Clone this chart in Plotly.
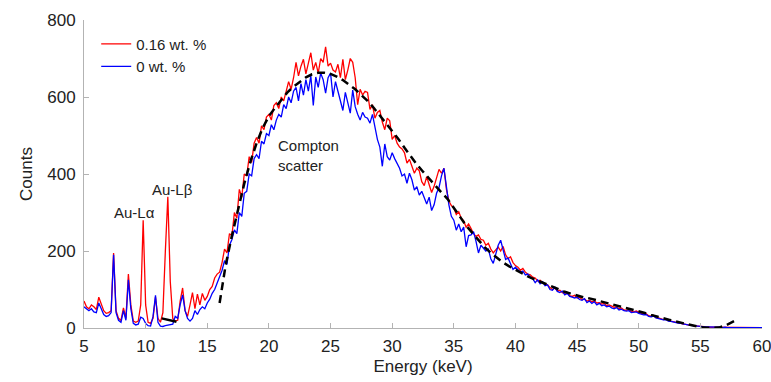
import numpy as np
import plotly.graph_objects as go

# Energy grid (keV), 0.2 keV channels from 5 to 60
energy = np.round(np.arange(5.0, 60.0001, 0.2), 1)

# 0.16 wt. % spectrum (counts), one row per keV
red_counts = [
    70, 55, 50, 60, 55,
    48, 80, 62, 45, 38,
    40, 45, 195, 45, 25,
    20, 52, 25, 140, 60,
    18, 15, 18, 60, 280,
    60, 15, 12, 25, 80,
    25, 15, 40, 200, 341,
    120, 25, 18, 20, 70,
    104, 45, 30, 60, 92,
    50, 88, 60, 90, 72,
    82, 100, 108, 130, 140,
    145, 170, 205, 195, 245,
    240, 300, 285, 360, 340,
    400, 395, 445, 430, 480,
    495, 480, 525, 515, 548,
    555, 540, 578, 585, 570,
    600, 590, 612, 640, 620,
    650, 690, 655, 680, 698,
    660, 690, 715, 670, 690,
    662, 700, 690, 730, 680,
    688, 670, 665, 685, 650,
    698, 645, 670, 700, 690,
    650, 580, 620, 605, 615,
    612, 568, 580, 545, 560,
    565, 535, 515, 545, 538,
    490, 500, 480, 470, 465,
    455, 428, 438, 420, 402,
    415, 408, 380, 370, 393,
    375, 352, 368, 390, 412,
    402, 415, 360, 330, 318,
    312, 295, 302, 285, 278,
    262, 270, 258, 245, 238,
    242, 230, 228, 215, 220,
    205, 195, 203, 210, 200,
    212, 190, 180, 185, 170,
    162, 158, 150, 155, 145,
    140, 138, 132, 130, 122,
    124, 118, 115, 112, 105,
    100, 104, 96, 98, 92,
    90, 92, 84, 82, 85,
    78, 80, 74, 75, 70,
    72, 68, 70, 65, 66,
    62, 64, 58, 60, 56,
    54, 55, 50, 52, 47,
    46, 48, 43, 42, 44,
    40, 38, 36, 37, 32,
    30, 33, 27, 26, 24,
    22, 23, 19, 18, 16,
    15, 14, 12, 11, 9,
    8, 8, 6, 5, 5,
    4, 4, 3, 3, 2,
    2, 2, 2, 1, 2,
    1, 1, 2, 1, 1,
    1, 1, 1, 1, 1,
    1, 1, 1, 1, 1,
    1,
]

# 0 wt. % spectrum (counts)
blue_counts = [
    55, 50, 45, 50, 42,
    40, 65, 50, 35, 30,
    32, 40, 190, 40, 20,
    15, 45, 20, 125, 50,
    12, 8, 10, 28, 25,
    12, 6, 5, 30, 85,
    15, 5, 4, 6, 7,
    8, 10, 30, 25, 60,
    86, 45, 25, 18, 25,
    45, 35, 48, 55, 50,
    65, 75, 90, 100, 115,
    130, 150, 175, 165, 215,
    230, 255, 245, 300, 290,
    350, 355, 400, 395, 440,
    450, 440, 485, 478, 505,
    500, 528, 515, 540, 555,
    548, 580, 570, 600, 585,
    615, 625, 590, 635, 605,
    645, 615, 655, 578, 652,
    625, 662, 645, 610, 650,
    662, 600, 640, 615, 590,
    565, 612, 585, 558, 618,
    575, 555, 540, 560, 548,
    545, 532, 555, 520, 490,
    470, 420, 478, 445, 436,
    455, 440, 428, 415, 395,
    400, 376, 402, 385, 358,
    367, 345, 355, 340, 322,
    340, 305, 320, 350, 365,
    395, 415, 370, 320, 290,
    280, 254, 270, 250, 262,
    211, 240, 242, 250, 225,
    195, 215, 208, 200, 205,
    180, 168, 195, 215, 228,
    205, 178, 182, 165, 152,
    158, 150, 145, 148, 138,
    140, 132, 128, 118, 125,
    115, 120, 110, 112, 100,
    98, 106, 95, 92, 96,
    86, 90, 82, 80, 78,
    80, 74, 72, 76, 66,
    70, 64, 68, 60, 64,
    58, 60, 55, 57, 52,
    50, 53, 47, 49, 45,
    44, 45, 40, 41, 42,
    38, 36, 34, 35, 30,
    29, 31, 26, 25, 22,
    21, 22, 18, 17, 15,
    14, 13, 12, 10, 9,
    8, 7, 6, 5, 5,
    4, 4, 3, 3, 3,
    2, 2, 2, 2, 1,
    2, 1, 1, 2, 1,
    1, 1, 1, 1, 1,
    1, 1, 1, 1, 1,
    1,
]

# Compton scatter fit (dashed)
fit_energy = [16.0, 16.5, 17.0, 17.5, 18.0, 18.5, 19.0, 19.5, 20.0, 20.5,
              21.0, 21.5, 22.0, 22.5, 23.0, 23.5, 24.0, 24.5, 25.0, 25.5,
              26.0, 26.5, 27.0, 27.5, 28.0, 28.5, 29.0, 29.5, 30.0, 30.5,
              31.0, 31.5, 32.0, 32.5, 33.0, 33.5, 34.0, 34.5, 35.0, 35.5,
              36.0, 36.5, 37.0, 37.5, 38.0, 38.5, 39.0, 39.5, 40.0, 40.5,
              41.0, 41.5, 42.0, 42.5, 43.0, 43.5, 44.0, 44.5, 45.0, 45.5,
              46.0, 46.5, 47.0, 47.5, 48.0, 48.5, 49.0, 49.5, 50.0, 50.5,
              51.0, 51.5, 52.0, 52.5, 53.0, 53.5, 54.0, 54.5, 55.0, 55.5,
              56.0, 56.5, 57.0, 57.5, 58.0]
fit_counts = [65, 165, 240, 306, 375, 432, 480, 520, 550, 572,
              592, 612, 627, 640, 651, 659, 663, 663, 660, 653,
              644, 632, 620, 605, 590, 572, 552, 532, 511, 491,
              468, 446, 425, 406, 388, 368, 352, 335, 312, 288,
              266, 247, 228, 210, 195, 182, 170, 160, 151, 142,
              134, 127, 120, 113, 106, 100, 94, 89, 84, 80,
              77, 73, 69, 65, 61, 57, 52, 47, 43, 39,
              34, 29, 25, 21, 17, 13, 9, 5, 2, 0.5,
              0, 1, 6, 14, 22]

# Background fit under Au-Lbeta
bg_energy = [11.3, 12.5]
bg_counts = [25, 16]

x_ticks = [5, 10, 15, 20, 25, 30, 35, 40, 45, 50, 55, 60]
y_ticks = [0, 200, 400, 600, 800]

FONT = "Arial, Liberation Sans, Helvetica, sans-serif"
AXIS_COLOR = "#b3b3b3"

fig = go.Figure()
fig.add_trace(go.Scatter(x=energy, y=red_counts, mode="lines", name="0.16 wt. %",
                         line=dict(color="#ff0000", width=1.3)))
fig.add_trace(go.Scatter(x=energy, y=blue_counts, mode="lines", name="0 wt. %",
                         line=dict(color="#0000ff", width=1.3)))
fig.add_trace(go.Scatter(x=fit_energy, y=fit_counts, mode="lines", showlegend=False,
                         line=dict(color="black", width=2.5, dash="8px,5px")))
fig.add_trace(go.Scatter(x=bg_energy, y=bg_counts, mode="lines", showlegend=False,
                         line=dict(color="black", width=2.5)))

fig.add_annotation(x=9.06, y=299, text="Au-Lα", showarrow=False,
                   font=dict(size=15, color="#222"))
fig.add_annotation(x=12.14, y=361, text="Au-Lβ", showarrow=False,
                   font=dict(size=15, color="#222"))
fig.add_annotation(x=20.6, y=447, text="Compton<br>scatter", showarrow=False,
                   xanchor="left", align="left", font=dict(size=15, color="#222"))

fig.update_layout(
    width=771, height=382,
    margin=dict(l=84, r=9, t=20, b=54),
    paper_bgcolor="white", plot_bgcolor="white",
    font=dict(family=FONT, size=17, color="#222"),
    legend=dict(x=0.018, y=0.975, xanchor="left", yanchor="top",
                bgcolor="rgba(0,0,0,0)", font=dict(size=15, color="#222"),
                tracegroupgap=0, itemwidth=30),
    showlegend=True,
)
fig.update_xaxes(range=[5, 60], tickvals=x_ticks, ticks="inside", ticklen=5,
                 tickcolor=AXIS_COLOR, showline=True, linecolor=AXIS_COLOR,
                 linewidth=1, showgrid=False, zeroline=False, ticklabelstandoff=3,
                 automargin=False, ticklabeloverflow="allow",
                 title=dict(text="Energy (keV)", font=dict(size=17), standoff=4),
                 tickfont=dict(size=17))
fig.update_yaxes(range=[0, 800], tickvals=y_ticks, ticks="inside", ticklen=5,
                 tickcolor=AXIS_COLOR, showline=True, linecolor=AXIS_COLOR,
                 linewidth=1, showgrid=False, zeroline=False, ticklabelstandoff=4,
                 automargin=False, ticklabeloverflow="allow",
                 title=dict(text="Counts", font=dict(size=17), standoff=10),
                 tickfont=dict(size=17))

fig.write_html("out.html")
